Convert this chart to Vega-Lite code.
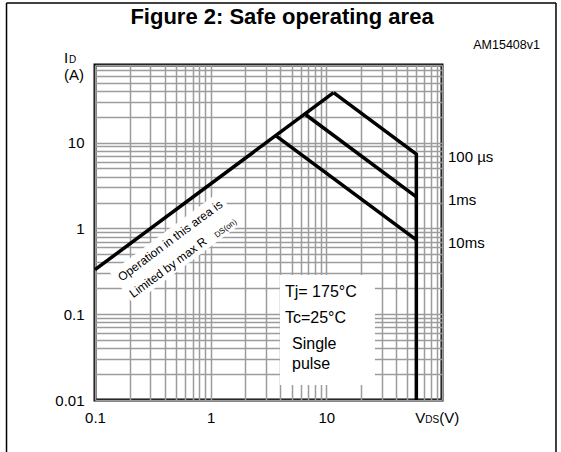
{
  "$schema": "https://vega.github.io/schema/vega-lite/v6.json",
  "width": 347,
  "height": 335,
  "autosize": {"type": "none"},
  "padding": {"left": 95, "top": 65, "right": 119, "bottom": 52},
  "background": "white",
  "config": {
    "view": {"stroke": "black", "strokeWidth": 3},
    "text": {"font": "Liberation Sans, Arial, sans-serif", "color": "black"}
  },
  "encoding": {
    "x": {
      "field": "V", "type": "quantitative",
      "scale": {"type": "log", "domain": [0.1, 100], "nice": false},
      "axis": {
        "title": null,
        "values": [0.1, 0.2, 0.3, 0.4, 0.5, 0.6, 0.7, 0.8, 0.9, 1, 2, 3, 4, 5, 6, 7, 8, 9, 10, 20, 30, 40, 50, 60, 70, 80, 90, 100],
        "labelExpr": "datum.value == 0.1 ? '0.1' : datum.value == 1 ? '1' : datum.value == 10 ? '10' : ''",
        "grid": true, "gridColor": "#9c9c9c", "gridWidth": 1.5,
        "ticks": false, "domain": false,
        "labelFont": "Liberation Sans, Arial, sans-serif", "labelFontSize": 15, "labelColor": "black",
        "labelPadding": 10, "labelFlush": false, "labelOverlap": false, "labelBound": false
      }
    },
    "y": {
      "field": "I", "type": "quantitative",
      "scale": {"type": "log", "domain": [0.01, 80], "nice": false},
      "axis": {
        "title": null,
        "values": [0.01, 0.02, 0.03, 0.04, 0.05, 0.06, 0.07, 0.08, 0.09, 0.1, 0.2, 0.3, 0.4, 0.5, 0.6, 0.7, 0.8, 0.9, 1, 2, 3, 4, 5, 6, 7, 8, 9, 10, 20, 30, 40, 50, 60, 70, 80],
        "labelExpr": "datum.value == 0.01 ? '0.01' : datum.value == 0.1 ? '0.1' : datum.value == 1 ? '1' : datum.value == 10 ? '10' : ''",
        "grid": true, "gridColor": "#9c9c9c", "gridWidth": 1.5,
        "ticks": false, "domain": false,
        "labelFont": "Liberation Sans, Arial, sans-serif", "labelFontSize": 15, "labelColor": "black",
        "labelPadding": 11, "labelFlush": false, "labelOverlap": false, "labelBound": false
      }
    }
  },
  "layer": [
    {
      "data": {"values": [
        {"V": 0.01718, "V2": 0.01718, "I": 0.002, "I2": 422},
        {"V": 967, "V2": 967, "I": 0.002, "I2": 422},
        {"V": 0.01718, "V2": 967, "I": 422, "I2": 422}
      ]},
      "mark": {"type": "rule", "color": "black", "strokeWidth": 1.5},
      "encoding": {"x2": {"field": "V2"}, "y2": {"field": "I2"}}
    },
    {
      "data": {"values": [{"V": 3.97, "V2": 26.3, "I": 0.286, "I2": 0.01496}]},
      "mark": {"type": "rect", "color": "white"},
      "encoding": {"x2": {"field": "V2"}, "y2": {"field": "I2"}}
    },
    {
      "data": {"values": [
        {"V": 0.1352, "I": 0.3029, "I2": 0.3029},
        {"V": 0.2149, "I": 0.4828, "I2": 0.1309},
        {"V": 1.166, "I": 2.638, "I2": 0.7151},
        {"V": 1.854, "I": 1.14, "I2": 1.14}
      ]},
      "mark": {"type": "area", "color": "white", "interpolate": "linear"},
      "encoding": {"y2": {"field": "I2"}}
    },
    {
      "data": {"values": [
        {"series": "RDS(on) limit", "ord": 1, "V": 0.1, "I": 0.33},
        {"series": "RDS(on) limit", "ord": 2, "V": 11.55, "I": 38.1},
        {"series": "100 µs", "ord": 1, "V": 11.55, "I": 38.1},
        {"series": "100 µs", "ord": 2, "V": 60, "I": 7.33},
        {"series": "100 µs", "ord": 3, "V": 60, "I": 0.01},
        {"series": "1ms", "ord": 1, "V": 6.51, "I": 21.5},
        {"series": "1ms", "ord": 2, "V": 60, "I": 2.33},
        {"series": "10ms", "ord": 1, "V": 3.65, "I": 12.05},
        {"series": "10ms", "ord": 2, "V": 60, "I": 0.733}
      ]},
      "mark": {"type": "line", "color": "black", "strokeWidth": 3.5},
      "encoding": {"detail": {"field": "series"}, "order": {"field": "ord"}}
    },
    {
      "data": {"values": [
        {"V": 100, "I": 7.33, "label": "100 µs"},
        {"V": 100, "I": 2.33, "label": "1ms"},
        {"V": 100, "I": 0.733, "label": "10ms"}
      ]},
      "mark": {"type": "text", "align": "left", "baseline": "middle", "dx": 6, "dy": 3, "fontSize": 15},
      "encoding": {"text": {"field": "label"}}
    },
    {
      "data": {"values": [
        {"V": 4.39, "I": 0.1585, "label": "Tj= 175°C"},
        {"V": 4.39, "I": 0.0789, "label": "Tc=25°C"},
        {"V": 5.05, "I": 0.0393, "label": "Single"},
        {"V": 5.05, "I": 0.02296, "label": "pulse"}
      ]},
      "mark": {"type": "text", "align": "left", "baseline": "alphabetic", "fontSize": 16},
      "encoding": {"text": {"field": "label"}}
    },
    {
      "data": {"values": [
        {"V": 0.1702, "I": 0.2389, "label": "Operation in this area is"},
        {"V": 0.2143, "I": 0.1531, "label": "Limited by max R"}
      ]},
      "mark": {"type": "text", "align": "left", "baseline": "alphabetic", "fontSize": 12, "angle": -36.6},
      "encoding": {"text": {"field": "label"}}
    },
    {
      "data": {"values": [{"V": 1.134, "I": 0.772, "label": "DS(on)"}]},
      "mark": {"type": "text", "align": "left", "baseline": "alphabetic", "fontSize": 8, "angle": -36.6},
      "encoding": {"text": {"field": "label"}}
    },
    {
      "data": {"values": [{"V": 4.138, "I": 240.3, "label": "Figure 2: Safe operating area"}]},
      "mark": {"type": "text", "align": "center", "baseline": "alphabetic", "fontWeight": "bold", "fontSize": 22},
      "encoding": {"text": {"field": "label"}}
    },
    {
      "data": {"values": [{"V": 703, "I": 122.9, "label": "AM15408v1"}]},
      "mark": {"type": "text", "align": "right", "baseline": "alphabetic", "fontSize": 12.5},
      "encoding": {"text": {"field": "label"}}
    },
    {
      "data": {"values": [{"V": 0.1, "I": 80, "label": "I"}]},
      "mark": {"type": "text", "align": "left", "baseline": "alphabetic", "fontSize": 15, "dx": -31, "dy": -2},
      "encoding": {"text": {"field": "label"}}
    },
    {
      "data": {"values": [{"V": 0.1, "I": 80, "label": "D"}]},
      "mark": {"type": "text", "align": "left", "baseline": "alphabetic", "fontSize": 10, "dx": -26, "dy": -2},
      "encoding": {"text": {"field": "label"}}
    },
    {
      "data": {"values": [{"V": 0.1, "I": 80, "label": "(A)"}]},
      "mark": {"type": "text", "align": "left", "baseline": "alphabetic", "fontSize": 15, "dx": -31, "dy": 15},
      "encoding": {"text": {"field": "label"}}
    },
    {
      "data": {"values": [{"V": 60, "I": 0.01, "label": "V"}]},
      "mark": {"type": "text", "align": "left", "baseline": "alphabetic", "fontSize": 15, "dx": -1, "dy": 23},
      "encoding": {"text": {"field": "label"}}
    },
    {
      "data": {"values": [{"V": 60, "I": 0.01, "label": "DS"}]},
      "mark": {"type": "text", "align": "left", "baseline": "alphabetic", "fontSize": 10, "dx": 9, "dy": 23},
      "encoding": {"text": {"field": "label"}}
    },
    {
      "data": {"values": [{"V": 60, "I": 0.01, "label": "(V)"}]},
      "mark": {"type": "text", "align": "left", "baseline": "alphabetic", "fontSize": 15, "dx": 23, "dy": 23},
      "encoding": {"text": {"field": "label"}}
    }
  ]
}
